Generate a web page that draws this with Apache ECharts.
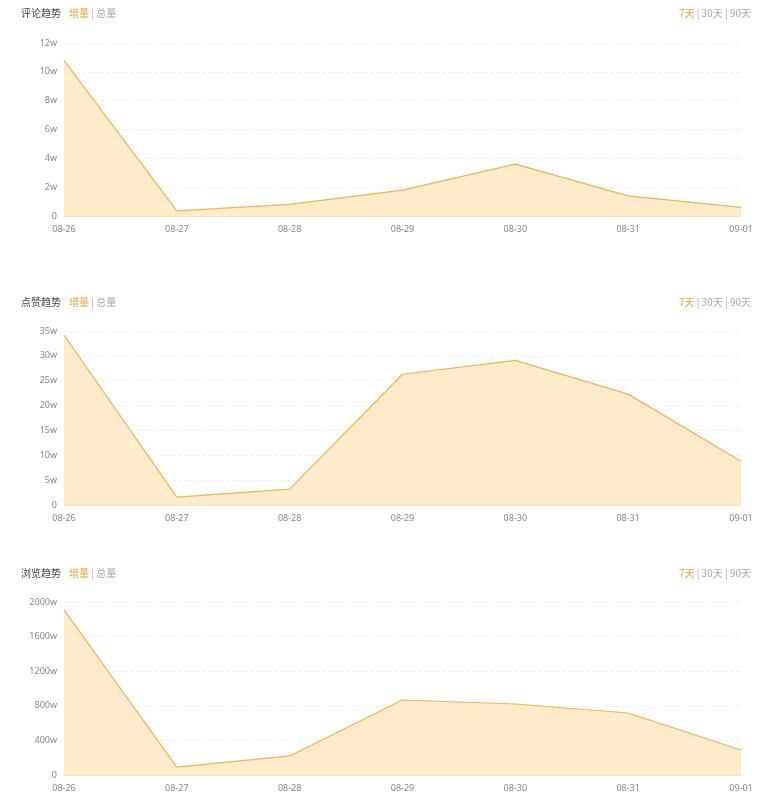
<!DOCTYPE html>
<html><head><meta charset="utf-8">
<script src="https://cdn.jsdelivr.net/npm/echarts@6/dist/echarts.min.js"></script>
<style>html,body{margin:0;padding:0;background:#fff}#c{width:760px;height:800px}</style>
</head><body><div id="c"></div>
<script>
const categories = ['08-26','08-27','08-28','08-29','08-30','08-31','09-01'];
const commentValues = [10.8, 0.35, 0.8, 1.8, 3.6, 1.4, 0.6];
const likeValues = [34.2, 1.6, 3.2, 26.3, 29.1, 22.3, 8.8];
const viewValues = [1908, 92, 220, 867, 821, 717, 289];
const chartTitles = ['评论趋势', '点赞趋势', '浏览趋势'];
const yMax = [12, 35, 2000];
const yInterval = [2, 5, 400];
const seriesList = [commentValues, likeValues, viewValues];

const gridTops = [43, 331, 602];
const gridHeights = [173, 174, 173];
const headerTops = [3, 292, 563];

const chart = echarts.init(document.getElementById('c'));
const grids = [], xAxes = [], yAxes = [], series = [], titles = [];
const ff = 'Noto Sans CJK SC';
for (let i = 0; i < 3; i++) {
  grids.push({left: 64, right: 19, top: gridTops[i], height: gridHeights[i], containLabel: false});
  xAxes.push({
    type: 'category', gridIndex: i, data: categories, boundaryGap: false,
    axisLine: {lineStyle: {color: '#f7e0b8'}}, axisTick: {show: false},
    axisLabel: {color: '#888', fontSize: 9, margin: 9, fontFamily: 'Noto Sans'}
  });
  yAxes.push({
    type: 'value', gridIndex: i, min: 0, max: yMax[i], interval: yInterval[i],
    axisLine: {show: false}, axisTick: {show: false},
    axisLabel: {color: '#888', fontSize: 9, margin: 7, fontFamily: 'Noto Sans',
      formatter: v => v === 0 ? '0' : v + 'w'},
    splitLine: {lineStyle: {color: '#f0f0f0', type: 'dashed'}}
  });
  series.push({
    type: 'line', xAxisIndex: i, yAxisIndex: i, data: seriesList[i],
    symbol: 'none', smooth: false,
    lineStyle: {color: '#eeb45c', width: 1.2},
    areaStyle: {color: '#fdebc9', opacity: 1}
  });
  titles.push({
    left: 16, top: headerTops[i],
    text: '{a|' + chartTitles[i] + '}{b|增量}{c| | 总量}',
    textStyle: {fontWeight: 'normal', rich: {
      a: {fontSize: 10, color: '#444', fontFamily: ff, fontWeight: 'normal', width: 48},
      b: {fontSize: 10, color: '#e6a43f', fontFamily: ff, fontWeight: 'normal'},
      c: {fontSize: 10, color: '#aaa', fontFamily: ff, fontWeight: 'normal'}
    }}
  });
  titles.push({
    right: 4, top: headerTops[i],
    text: '{b|7天}{c| | 30天 | 90天}',
    textStyle: {fontWeight: 'normal', rich: {
      b: {fontSize: 10, color: '#e6a43f', fontFamily: ff, fontWeight: 'normal'},
      c: {fontSize: 10, color: '#aaa', fontFamily: ff, fontWeight: 'normal'}
    }}
  });
}
chart.setOption({
  animation: false,
  backgroundColor: '#fff',
  title: titles, grid: grids, xAxis: xAxes, yAxis: yAxes, series: series
});
</script></body></html>
